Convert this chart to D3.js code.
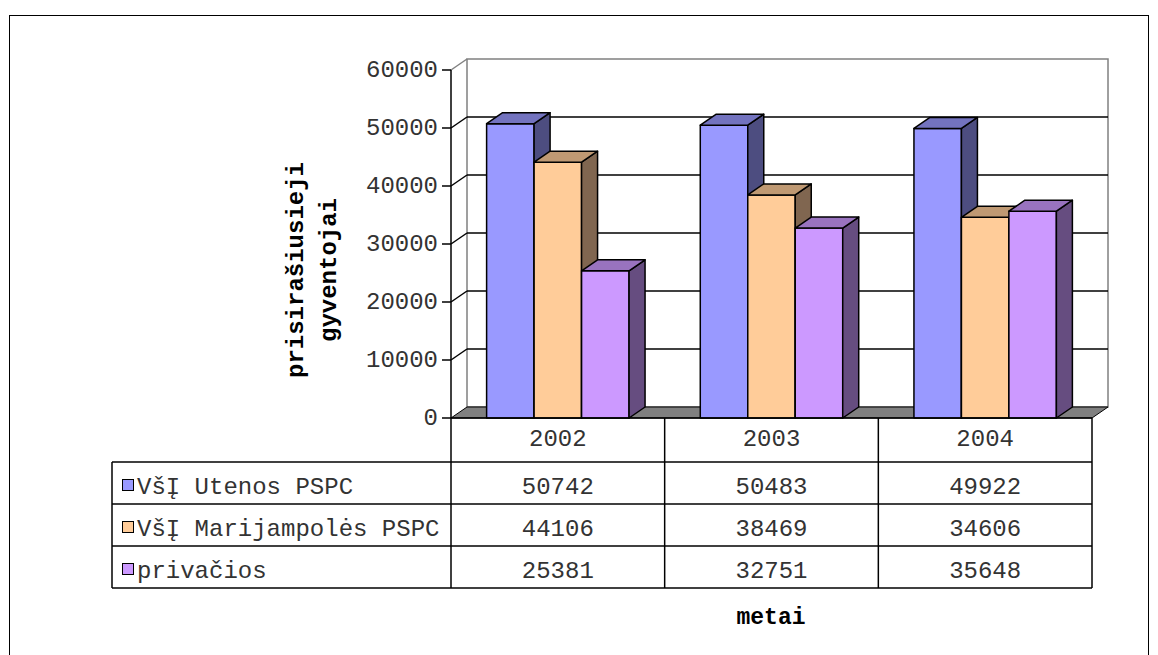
<!DOCTYPE html>
<html>
<head>
<meta charset="utf-8">
<script src="https://cdnjs.cloudflare.com/ajax/libs/d3/7.8.5/d3.min.js"></script>
<style>
body { margin: 0; background: #fff; }
text { font-family: "Liberation Mono", "Courier New", monospace; }
</style>
</head>
<body>
<svg id="chart" width="1158" height="655"></svg>
<script>
// Data used to fill-in the chart:
//------------------------------------
var years = ["2002", "2003", "2004"];
var seriesNames = ["VšĮ Utenos PSPC", "VšĮ Marijampolės PSPC", "privačios"];
var utenos = [50742, 50483, 49922];
var marijampole = [44106, 38469, 34606];
var privacios = [25381, 32751, 35648];
var yTicks = [0, 10000, 20000, 30000, 40000, 50000, 60000];

var values = [utenos, marijampole, privacios];

// excel style 3d shading
var frontColors = ["#9999ff", "#ffcc99", "#cc99ff"];
var sideColors = ["#4d4d80", "#806650", "#664d80"];
var topColors = ["#7373bf", "#bf9973", "#9973bf"];

//------------------------------------
var svg = d3.select("#chart");
var plotLeft = 451, plotRight = 1092, plotTop = 70, plotBottom = 418;
var dx = 16, dy = -11;       // depth of the 3d box
var headH = 44, rowH = 42, tableLeft = 112;

var x0 = d3.scaleBand().domain(years).range([plotLeft, plotRight]);
var x1 = d3.scaleBand().domain(seriesNames).range([0, x0.bandwidth()]).paddingOuter(0.75);
var y = d3.scaleLinear().domain([0, 60000]).range([plotBottom, plotTop]);

// outer frame
svg.append("rect").attr("x", 9.5).attr("y", 15.5).attr("width", 1139).attr("height", 700)
    .attr("fill", "none").attr("stroke", "#000");

// back wall
svg.append("rect")
    .attr("x", plotLeft + dx).attr("y", y(60000) + dy)
    .attr("width", plotRight - plotLeft).attr("height", plotBottom - plotTop)
    .attr("fill", "#fff").attr("stroke", "#808080").attr("stroke-width", 1.5);

// gridlines on the back wall
svg.selectAll(".grid").data(yTicks.slice(1, -1)).enter().append("line")
    .attr("x1", plotLeft + dx).attr("x2", plotRight + dx)
    .attr("y1", function (d) { return y(d) + dy; })
    .attr("y2", function (d) { return y(d) + dy; })
    .attr("stroke", "#000").attr("stroke-width", 1.5);

// side wall slants
svg.selectAll(".slant").data(yTicks.slice(1)).enter().append("line")
    .attr("x1", plotLeft).attr("x2", plotLeft + dx)
    .attr("y1", function (d) { return y(d); })
    .attr("y2", function (d) { return y(d) + dy; })
    .attr("stroke", function (d) { return d === 60000 ? "#808080" : "#000"; })
    .attr("stroke-width", 1.5);

// floor
svg.append("polygon")
    .attr("points", [[plotLeft, plotBottom], [plotRight, plotBottom], [plotRight + dx, plotBottom + dy], [plotLeft + dx, plotBottom + dy]].join(" "))
    .attr("fill", "#808080").attr("stroke", "#000").attr("stroke-width", 1);

// y axis
svg.append("line").attr("x1", plotLeft).attr("x2", plotLeft).attr("y1", y(60000)).attr("y2", plotBottom)
    .attr("stroke", "#000").attr("stroke-width", 1.5);
svg.selectAll(".tick").data(yTicks).enter().append("line")
    .attr("x1", plotLeft - 9).attr("x2", plotLeft)
    .attr("y1", function (d) { return y(d); })
    .attr("y2", function (d) { return y(d); })
    .attr("stroke", "#000").attr("stroke-width", 1.5);
svg.selectAll(".tickLabel").data(yTicks).enter().append("text")
    .attr("x", plotLeft - 13).attr("y", function (d) { return y(d) - 1; })
    .attr("dy", "0.35em").attr("text-anchor", "end")
    .attr("font-size", 24).attr("fill", "#333")
    .text(function (d) { return d; });

// bars
years.forEach(function (yr, i) {
    seriesNames.forEach(function (s, j) {
        var bx = x0(yr) + x1(s);
        var bw = x1.bandwidth();
        var by = y(values[j][i]);
        var g = svg.append("g").attr("stroke", "#000").attr("stroke-width", 1.5)
            .attr("stroke-linejoin", "round");
        g.append("rect").attr("x", bx).attr("y", by).attr("width", bw).attr("height", plotBottom - by)
            .attr("fill", frontColors[j]);
        g.append("polygon")
            .attr("points", [[bx + bw, by], [bx + bw + dx, by + dy], [bx + bw + dx, plotBottom + dy], [bx + bw, plotBottom]].join(" "))
            .attr("fill", sideColors[j]);
        g.append("polygon")
            .attr("points", [[bx, by], [bx + dx, by + dy], [bx + bw + dx, by + dy], [bx + bw, by]].join(" "))
            .attr("fill", topColors[j]);
    });
});

// data table
var tableBottom = plotBottom + headH + rowH * seriesNames.length;
var tbl = svg.append("g").attr("stroke", "#000").attr("stroke-width", 1.5);
tbl.append("line").attr("x1", plotLeft).attr("x2", plotRight).attr("y1", plotBottom).attr("y2", plotBottom);
for (var r = 0; r <= seriesNames.length; r++) {
    var ry = plotBottom + headH + rowH * r;
    tbl.append("line").attr("x1", tableLeft).attr("x2", plotRight).attr("y1", ry).attr("y2", ry);
}
tbl.append("line").attr("x1", tableLeft).attr("x2", tableLeft).attr("y1", plotBottom + headH).attr("y2", tableBottom);
years.concat(["end"]).forEach(function (yr) {
    var cx = yr === "end" ? plotRight : x0(yr);
    tbl.append("line").attr("x1", cx).attr("x2", cx).attr("y1", plotBottom).attr("y2", tableBottom);
});

// header years
svg.selectAll(".year").data(years).enter().append("text")
    .attr("x", function (d) { return x0(d) + x0.bandwidth() / 2; })
    .attr("y", plotBottom + headH / 2 - 2).attr("dy", "0.35em")
    .attr("text-anchor", "middle").attr("font-size", 24).attr("fill", "#333")
    .text(function (d) { return d; });

// rows: legend + values
seriesNames.forEach(function (s, j) {
    var cy = plotBottom + headH + rowH * j + rowH / 2 + 3;
    svg.append("rect").attr("x", 122.5).attr("y", cy - 6.5).attr("width", 11).attr("height", 11)
        .attr("fill", frontColors[j]).attr("stroke", "#000").attr("stroke-width", 1);
    svg.append("text").attr("x", 137).attr("y", cy).attr("dy", "0.35em")
        .attr("font-size", 24).attr("fill", "#333").text(s);
    years.forEach(function (yr, i) {
        svg.append("text")
            .attr("x", x0(yr) + x0.bandwidth() / 2).attr("y", cy).attr("dy", "0.35em")
            .attr("text-anchor", "middle").attr("font-size", 24).attr("fill", "#333")
            .text(values[j][i]);
    });
});

// axis titles
svg.append("text").attr("x", 771).attr("y", 616).attr("dy", "0.35em")
    .attr("text-anchor", "middle").attr("font-size", 23).attr("font-weight", "bold")
    .text("metai");
var yTitle = svg.append("g").attr("transform", "translate(311,270) rotate(-90)");
yTitle.append("text").attr("x", 0).attr("y", -16).attr("dy", "0.35em")
    .attr("text-anchor", "middle").attr("font-size", 24).attr("font-weight", "bold")
    .text("prisirašiusieji");
yTitle.append("text").attr("x", 0).attr("y", 17).attr("dy", "0.35em")
    .attr("text-anchor", "middle").attr("font-size", 24).attr("font-weight", "bold")
    .text("gyventojai");
</script>
</body>
</html>
